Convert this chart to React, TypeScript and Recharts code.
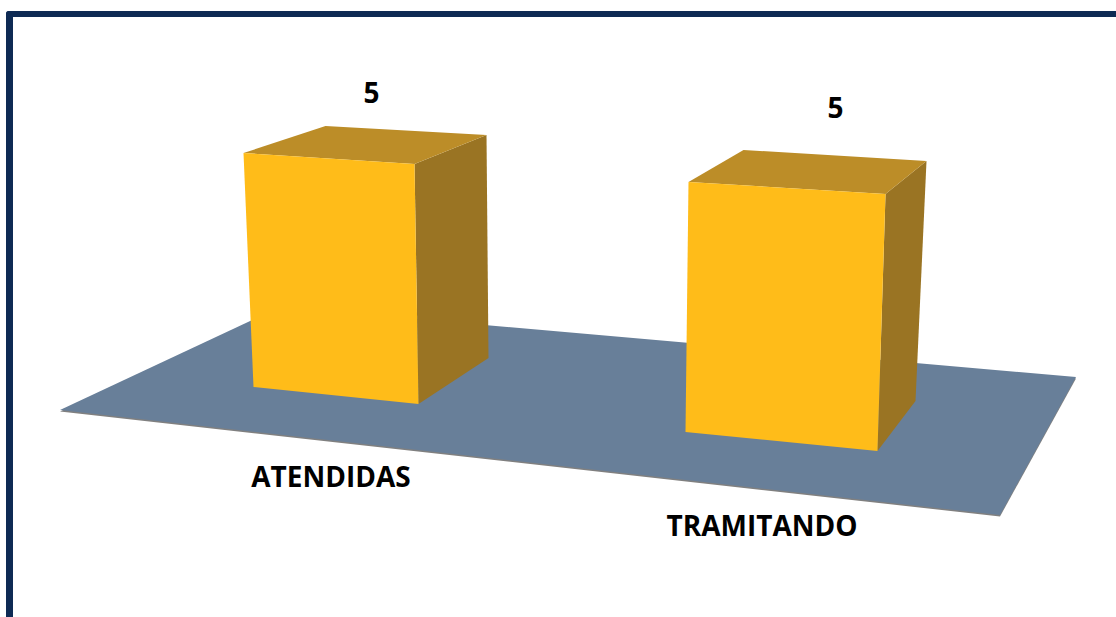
import React from 'react';
import { BarChart, Bar, XAxis, YAxis, LabelList, Customized } from 'recharts';

const categories = ['ATENDIDAS', 'TRAMITANDO'];
const values = [5, 5];

const chartData = categories.map((name, i) => ({ name, value: values[i] }));

const FRONT = '#FFBC19';
const TOP = '#BC8D28';
const SIDE = '#9A7423';
const FLOOR = '#687F99';
const FRAME = '#0E2A54';
const LABEL_FONT = '"Open Sans", "Noto Sans", sans-serif';

// the original is a tilted 3D view, so each cube is nudged away from its flat bar rect
const CUBE_SKEW = [
  { tl: [0.5, -12], tr: [-8.5, -1], br: [-4.5, -11], bl: [10.5, -28], backTl: [82, -27], backTr: [72, -29], backBr: [70, -46] },
  { tl: [-5.5, 17], tr: [11.5, 29], br: [3.5, 36], bl: [-8.5, 17], backTl: [55, -32], backTr: [41, -33], backBr: [38, -50] },
];
const TICK_SHIFT = [[-1.5, 53], [-21.5, 102]];
const VALUE_SHIFT = [[38.5, -73], [51.5, -58]];

const pts = (list: number[][]) => list.map((p) => p.join(',')).join(' ');

const Cube = (props: any) => {
  const { x, y, width, height, index } = props;
  const s = CUBE_SKEW[index];
  const right = x + width;
  const bottom = y + height;
  const tl = [x + s.tl[0], y + s.tl[1]];
  const tr = [right + s.tr[0], y + s.tr[1]];
  const br = [right + s.br[0], bottom + s.br[1]];
  const bl = [x + s.bl[0], bottom + s.bl[1]];
  const backTl = [tl[0] + s.backTl[0], tl[1] + s.backTl[1]];
  const backTr = [tr[0] + s.backTr[0], tr[1] + s.backTr[1]];
  const backBr = [br[0] + s.backBr[0], br[1] + s.backBr[1]];
  return (
    <g>
      <polygon points={pts([tr, backTr, backBr, br])} fill={SIDE} />
      <polygon points={pts([tl, backTl, backTr, tr])} fill={TOP} />
      <polygon points={pts([tl, tr, br, bl])} fill={FRONT} />
    </g>
  );
};

const Floor = () => {
  const corners = [[60, 410], [280, 307], [1076, 377], [1000, 515]];
  return (
    <g>
      <polygon points={pts(corners.map(([a, b]) => [a, b + 1.5]))} fill="#808080" />
      <polygon points={pts(corners)} fill={FLOOR} />
    </g>
  );
};

const CategoryTick = (props: any) => {
  const { x, y, payload, index } = props;
  const shift = TICK_SHIFT[index];
  return (
    <text
      x={x + shift[0]}
      y={y + shift[1]}
      textAnchor="middle"
      dominantBaseline="central"
      fontFamily={LABEL_FONT}
      fontWeight={700}
      fontSize={28}
      fill="#000"
    >
      {payload.value}
    </text>
  );
};

const ValueLabel = (props: any) => {
  const { x, y, width, value, index } = props;
  const shift = VALUE_SHIFT[index];
  return (
    <text
      x={x + width / 2 + shift[0]}
      y={y + shift[1]}
      textAnchor="middle"
      dominantBaseline="central"
      fontFamily={LABEL_FONT}
      fontWeight={700}
      fontSize={28}
      fill="#000"
    >
      {value}
    </text>
  );
};

export default function App() {
  return (
    <div style={{ position: 'absolute', left: 0, top: 0, width: 1116, height: 617, overflow: 'hidden', background: '#fff' }}>
      <div
        style={{
          position: 'absolute',
          left: 6,
          top: 11,
          width: 1110,
          height: 606,
          boxSizing: 'border-box',
          borderTop: `6px solid ${FRAME}`,
          borderLeft: `7px solid ${FRAME}`,
          borderTopLeftRadius: 3,
        }}
      />
      <div style={{ position: 'absolute', left: 0, top: 0 }}>
        <BarChart width={1116} height={617} data={chartData} margin={{ top: 115, right: 107, bottom: 142, left: 107 }}>
          <Customized component={Floor} />
          <XAxis dataKey="name" height={60} axisLine={false} tickLine={false} tick={CategoryTick} interval={0} />
          <YAxis hide domain={[0, 6]} />
          <Bar dataKey="value" barSize={180} shape={Cube} isAnimationActive={false}>
            <LabelList dataKey="value" content={ValueLabel} />
          </Bar>
        </BarChart>
      </div>
    </div>
  );
}
